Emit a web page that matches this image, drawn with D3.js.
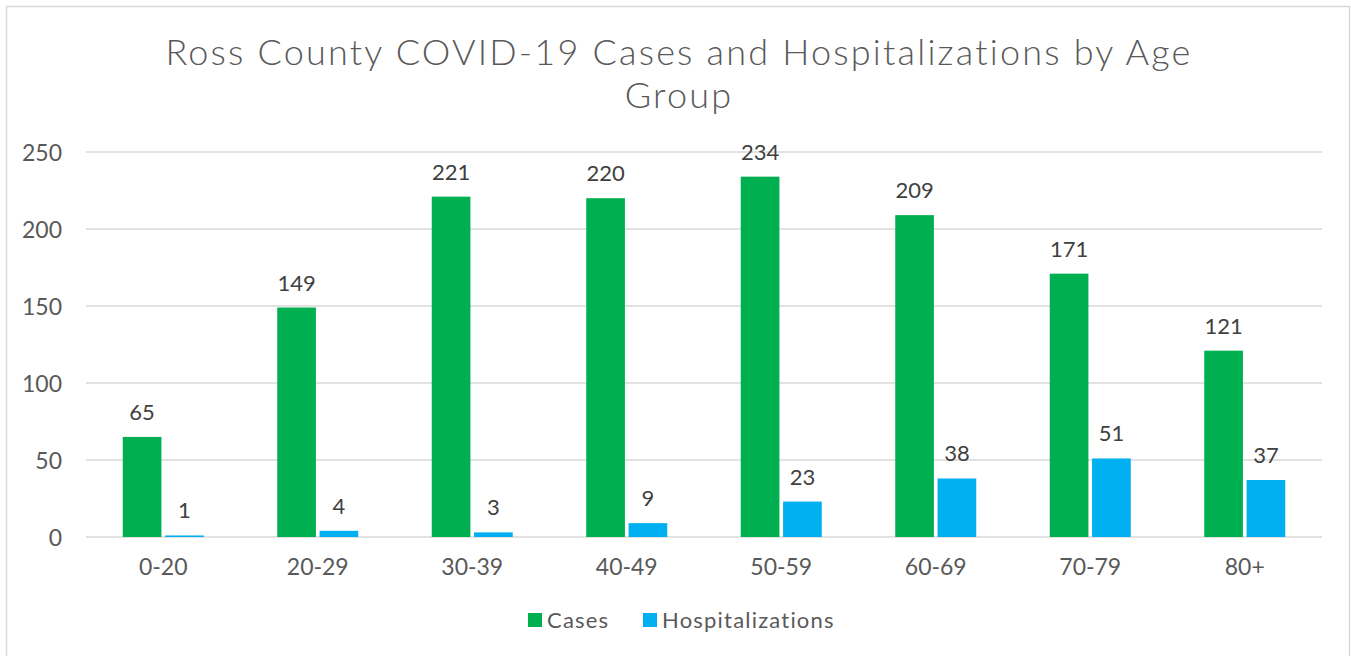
<!DOCTYPE html>
<html>
<head>
<meta charset="utf-8">
<script src="https://cdn.jsdelivr.net/npm/d3@7"></script>
<style>
  html, body { margin: 0; padding: 0; background: #fff; }
  svg { display: block; font-family: "Lato", "Noto Sans", sans-serif; }
</style>
</head>
<body>
<div id="chart"></div>
<script>
// --- chart data ---
const ageGroups = ['0-20', '20-29', '30-39', '40-49', '50-59', '60-69', '70-79', '80+'];
const cases = [65, 149, 221, 220, 234, 209, 171, 121];
const hospitalizations = [1, 4, 3, 9, 23, 38, 51, 37];
const yTicks = [0, 50, 100, 150, 200, 250];
const seriesNames = ['Cases', 'Hospitalizations'];
const seriesColors = ['#00B050', '#00B0F0'];

const W = 1351, H = 656;
const margin = {top: 152, right: 29, bottom: 119, left: 86};
const width = W - margin.left - margin.right;
const height = H - margin.top - margin.bottom;
const textColor = '#595959';
const fontStack = '"Lato", "Noto Sans", sans-serif';

const svg = d3.select('#chart').append('svg')
    .attr('width', W)
    .attr('height', H);

// chart border
svg.append('rect')
    .attr('x', 6.5).attr('y', 6.5)
    .attr('width', W - 8).attr('height', H)
    .attr('fill', 'none')
    .attr('stroke', '#d9d9d9')
    .attr('stroke-width', 1.5);

// title (two lines)
const title = svg.append('text')
    .attr('text-anchor', 'middle')
    .attr('fill', textColor)
    .style('font-size', '36px')
    .style('font-weight', 300)
    .style('letter-spacing', '2.2px');
title.append('tspan').attr('x', 679).attr('y', 65).text('Ross County COVID-19 Cases and Hospitalizations by Age');
title.append('tspan').attr('x', 679).attr('y', 108).text('Group');

const g = svg.append('g').attr('transform', `translate(${margin.left},${margin.top})`);

const x0 = d3.scaleBand().domain(ageGroups).range([0, width]);
const y = d3.scaleLinear().domain([0, 250]).range([height, 0]);

const barW = 37, gap = 7;
const x1 = d3.scaleBand().domain(seriesNames)
    .range([x0.bandwidth() / 2 - barW - gap / 2, x0.bandwidth() / 2 + barW + gap / 2])
    .paddingInner(gap / (2 * barW + gap));

// gridlines
g.append('g')
    .selectAll('line')
    .data(yTicks)
    .join('line')
    .attr('x1', 0).attr('x2', width)
    .attr('y1', d => y(d)).attr('y2', d => y(d))
    .attr('stroke', '#d9d9d9')
    .attr('stroke-width', 1.5);

// y axis labels
const yAxis = g.append('g')
    .call(d3.axisLeft(y).tickValues(yTicks).tickSize(0).tickPadding(24));
yAxis.select('.domain').remove();
yAxis.selectAll('text')
    .attr('fill', textColor)
    .attr('dy', '0.38em')
    .style('font-size', '23px')
    .style('font-family', fontStack);

// x axis labels
const xAxis = g.append('g')
    .attr('transform', `translate(0,${height})`)
    .call(d3.axisBottom(x0).tickSize(0).tickPadding(22));
xAxis.select('.domain').remove();
xAxis.selectAll('text')
    .attr('fill', textColor)
    .style('font-size', '23px')
    .style('font-family', fontStack);

const rows = ageGroups.map((a, i) => ({
    group: a,
    values: [
        {series: 'Cases', value: cases[i], color: seriesColors[0]},
        {series: 'Hospitalizations', value: hospitalizations[i], color: seriesColors[1]}
    ]
}));

const groups = g.selectAll('.grp')
    .data(rows)
    .join('g')
    .attr('class', 'grp')
    .attr('transform', d => `translate(${x0(d.group)},0)`);

groups.selectAll('rect')
    .data(d => d.values)
    .join('rect')
    .attr('x', d => x1(d.series))
    .attr('width', x1.bandwidth())
    .attr('y', d => y(d.value))
    .attr('height', d => y(0) - y(d.value))
    .attr('fill', d => d.color);

// data labels
groups.selectAll('.lbl')
    .data(d => d.values)
    .join('text')
    .attr('class', 'lbl')
    .attr('x', d => x1(d.series) + x1.bandwidth() / 2)
    .attr('y', d => y(d.value) - 17)
    .attr('text-anchor', 'middle')
    .attr('fill', '#404040')
    .style('font-size', '22px')
    .text(d => d.value);

// legend
const legendItems = [
    {name: seriesNames[0], color: seriesColors[0], x: 528},
    {name: seriesNames[1], color: seriesColors[1], x: 643}
];
const legend = svg.append('g');
legend.selectAll('rect')
    .data(legendItems)
    .join('rect')
    .attr('x', d => d.x).attr('y', 613)
    .attr('width', 14).attr('height', 14)
    .attr('fill', d => d.color);
legend.selectAll('text')
    .data(legendItems)
    .join('text')
    .attr('x', d => d.x + 19).attr('y', 628)
    .attr('fill', textColor)
    .style('font-size', '22px')
    .style('letter-spacing', '1.2px')
    .text(d => d.name);
</script>
</body>
</html>
